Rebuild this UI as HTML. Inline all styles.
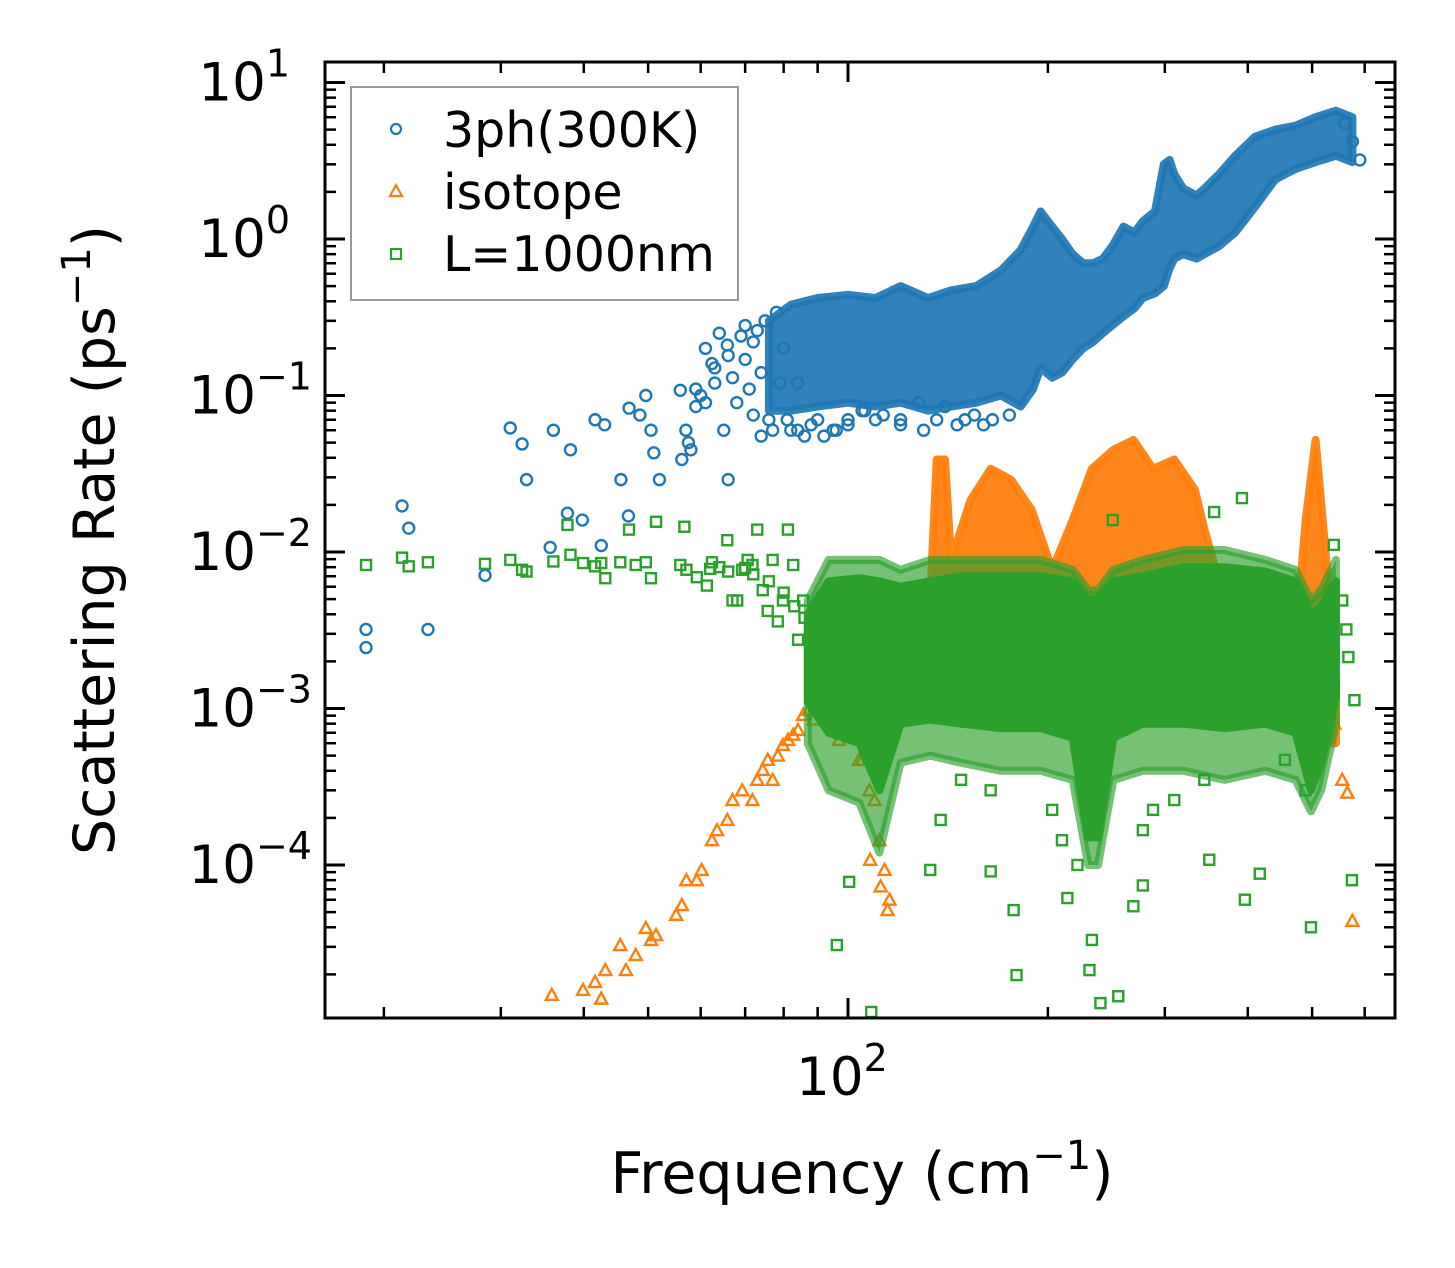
<!DOCTYPE html>
<html><head><meta charset="utf-8">
<style>
html,body{margin:0;padding:0;background:#fff;}
svg{display:block;font-family:"DejaVu Sans","Liberation Sans",sans-serif;}
</style></head>
<body>
<svg id="chart" width="1455" height="1268" viewBox="0 0 1455 1268" xmlns="http://www.w3.org/2000/svg">
<rect width="1455" height="1268" fill="#fff"/>
<g id="plot"></g>
<g id="axes"></g>
<text x="862" y="1193" font-size="57" text-anchor="middle">Frequency (cm<tspan dy="-24" font-size="40">−1</tspan><tspan dy="24">)</tspan></text>
<text transform="translate(114,540) rotate(-90)" font-size="57" text-anchor="middle">Scattering Rate (ps<tspan dy="-24" font-size="40">−1</tspan><tspan dy="24">)</tspan></text>
<g>
<rect x="351" y="87" width="387" height="213" fill="#fff" stroke="#999" stroke-width="2"/>
<circle cx="396" cy="129" r="5" fill="none" stroke="#1f77b4" stroke-width="2.2"/>
<text x="443" y="147" font-size="49">3ph(300K)</text>
<path d="M396,185 L402,196 L390,196 Z" fill="none" stroke="#ff7f0e" stroke-width="2.2"/>
<text x="443" y="209" font-size="49">isotope</text>
<rect x="391" y="249" width="10" height="10" fill="none" stroke="#2ca02c" stroke-width="2.2"/>
<text x="443" y="271" font-size="49">L=1000nm</text>
</g>
</svg>
<script>
// ---- data ----
const blueBandFreq = [76,82,90,100,110,120,132,143,156,170,182,190,195,203,210,218,226,234,242,250,260,270,278,290,299,305,310,320,335,344,362,383,410,440,472,506,543,575];
const blueBandHigh = [0.3,0.38,0.42,0.44,0.42,0.5,0.42,0.47,0.5,0.63,0.85,1.2,1.5,1.2,1.0,0.8,0.7,0.7,0.75,0.9,1.2,1.1,1.3,1.5,3.0,3.2,2.6,2.1,1.9,2.1,2.6,3.4,4.5,5.0,5.3,6.0,6.6,6.0];
const blueBandLow = [0.08,0.08,0.085,0.09,0.085,0.09,0.08,0.085,0.09,0.1,0.085,0.11,0.15,0.13,0.14,0.17,0.2,0.22,0.25,0.28,0.32,0.36,0.42,0.45,0.5,0.65,0.75,0.8,0.75,0.8,0.9,1.1,1.6,2.4,2.8,3.1,3.4,3.1];
const blueFreq = [18.8,18.8,21.3,21.8,23.3,28.4,31,32.3,32.8,36,35.6,37.8,38.2,39.8,41.6,43,42.5,45.5,46.8,46.7,48.6,49.6,50.5,51,52,55.9,56.2,57,57.5,59,60,61,62.4,63,65,65.8,66,67,69,70,71,72,73,74,75,76,78,80,82,84,86,90,95,100,105,110,120,130,140,150,160,175,590,575,560,58,59,61,63,64,66,68,70,72,74,77,79,81,84,88,92,96,100,106,113,120,128,136,146,155,165];
const blueRate = [3.2e-3,2.45e-3,0.0197,0.0142,3.2e-3,7.1e-3,0.062,0.049,0.029,0.06,0.0107,0.0177,0.045,0.016,0.07,0.065,0.011,0.029,0.083,0.017,0.075,0.1,0.06,0.043,0.029,0.108,0.039,0.06,0.05,0.085,0.1,0.2,0.16,0.12,0.06,0.21,0.029,0.13,0.24,0.17,0.11,0.075,0.26,0.055,0.3,0.07,0.34,0.2,0.06,0.12,0.055,0.07,0.06,0.065,0.08,0.07,0.065,0.06,0.085,0.07,0.065,0.075,3.2,4.2,5.5,0.045,0.11,0.09,0.15,0.25,0.18,0.09,0.28,0.22,0.14,0.06,0.12,0.07,0.06,0.065,0.055,0.06,0.07,0.08,0.075,0.07,0.09,0.07,0.065,0.075,0.07];

const orangeBandFreq = [95,120,133,136,140,143,153,164,176,189,203,218,233,251,269,288,310,333,344,369,425,472,489,506,525,543];
const orangeBandHigh = [1.2e-3,2.7e-3,4.9e-3,0.039,0.039,8.9e-3,0.0215,0.034,0.029,0.0186,7.7e-3,0.016,0.034,0.045,0.052,0.034,0.039,0.025,0.014,4.9e-3,2.7e-3,2.7e-3,0.016,0.052,8.9e-3,1.5e-3];
const orangeBandLow = [8e-4,8e-4,9e-4,9e-4,9e-4,9e-4,9e-4,9e-4,9e-4,9e-4,9e-4,9e-4,9e-4,1e-3,1e-3,1.2e-3,1.5e-3,1.5e-3,1.5e-3,1.5e-3,1.5e-3,1.3e-3,1e-3,8e-4,6e-4,6e-4];
const orangeFreq = [35.8,39.9,41.6,42.5,43.1,45.4,46.3,47.9,49.6,50.5,51.4,55.1,56.2,57.1,59.2,60.2,62.4,63.5,65.8,67,69.3,71.8,73,74.4,75.7,77,78.4,79.8,81.2,82.7,84.1,85.6,87.2,88.7,90.3,93.5,96.9,100.4,103.9,107.7,111.5,113.5,114.7,115.5,109.6,112,108,105,555,565,575,540,530,520,500,488,450,430];
const orangeRate = [1.48e-5,1.59e-5,1.79e-5,1.4e-5,2.13e-5,3.08e-5,2.13e-5,2.66e-5,3.96e-5,3.32e-5,3.57e-5,4.8e-5,5.55e-5,8e-5,8e-5,9.3e-5,1.44e-4,1.67e-4,1.94e-4,2.6e-4,3e-4,2.6e-4,3.5e-4,4.05e-4,4.7e-4,3.5e-4,5e-4,5.85e-4,6.3e-4,6.8e-4,7.3e-4,9.1e-4,9.8e-4,8.5e-4,1.13e-3,1.13e-3,6.3e-4,8.5e-4,4.7e-4,3e-4,1.44e-4,9.3e-5,5.15e-5,6e-5,2.6e-4,7.3e-5,1.08e-4,4.7e-4,3.5e-4,2.9e-4,4.4e-5,8e-4,2e-3,2.5e-3,2e-3,1.7e-3,2e-3,1.8e-3];

const greenBandFreq = [87,93.5,104,111.5,120,133,148,170,195,218,230,238,251,278,320,369,425,472,498,516,543];
const greenOuterHigh = [4.9e-3,8.9e-3,8.9e-3,8.9e-3,7.7e-3,8.9e-3,8.9e-3,8.9e-3,8.9e-3,7.7e-3,5.7e-3,5.7e-3,7.7e-3,8.9e-3,0.0103,0.0103,8.9e-3,7.7e-3,4.9e-3,5.7e-3,8.9e-3];
const greenOuterLow = [6e-4,3e-4,2.5e-4,1.2e-4,4.5e-4,5e-4,4.5e-4,4e-4,4e-4,3.5e-4,1.0e-4,1.0e-4,3.5e-4,4e-4,4e-4,3.5e-4,4e-4,3.5e-4,2.2e-4,3e-4,8e-4];
const greenCoreHigh = [4e-3,6.5e-3,6.8e-3,6.5e-3,6e-3,6.5e-3,7e-3,7e-3,7e-3,6.5e-3,5e-3,5e-3,6.5e-3,7e-3,8e-3,8e-3,7.5e-3,6.5e-3,4e-3,4.5e-3,6.5e-3];
const greenCoreLow = [1.1e-3,7e-4,6e-4,3e-4,8e-4,8.5e-4,8e-4,7.5e-4,7.5e-4,6.5e-4,1.5e-4,1.5e-4,6.5e-4,8e-4,8e-4,7.5e-4,8e-4,7e-4,3e-4,4.5e-4,1.2e-3];
const greenFreq = [18.8,21.3,21.8,23.3,28.4,31,32.3,32.8,36,37.8,38.2,39.9,41.6,42.5,43.1,45.4,46.8,47.9,49.6,50.5,51.4,55.9,56.7,57.1,59.2,61.3,62.4,65.8,67,68.1,69.3,70.6,71.8,73,74.4,75.7,77,78.4,79.8,81.2,82.7,84.1,85.6,96.2,100.4,108.4,133,137.9,164,177.6,179.4,214,221.6,231,233,240,255.3,269,278,350,396,417,498,574,579,567,563,555,539,356,392,250.5,148,164,203,288,310,344,455,489,210,278,62,64,66,70,72,76,80,83,86,88,90];
const greenRate = [8.26e-3,9.2e-3,8.1e-3,8.6e-3,8.4e-3,8.9e-3,7.7e-3,7.5e-3,8.7e-3,0.0149,9.6e-3,8.5e-3,8.1e-3,8.5e-3,6.8e-3,8.6e-3,0.0139,8.26e-3,8.6e-3,6.8e-3,0.0156,8.26e-3,0.0145,7.7e-3,6.9e-3,6.1e-3,8.6e-3,0.0119,4.9e-3,4.9e-3,7.7e-3,8.9e-3,8.26e-3,0.0139,5.7e-3,4.2e-3,8.9e-3,3.6e-3,4.9e-3,0.0139,8.26e-3,2.75e-3,4.9e-3,3.08e-5,7.8e-5,1.15e-5,9.3e-5,1.94e-4,9.1e-5,5.15e-5,1.98e-5,6.15e-5,1e-4,2.13e-5,3.32e-5,1.31e-5,1.45e-5,5.45e-5,7.4e-5,1.08e-4,6e-5,8.8e-5,4e-5,8e-5,1.13e-3,2.13e-3,3.2e-3,4.9e-3,0.0111,0.018,0.0221,0.016,3.5e-4,3e-4,2.25e-4,2.25e-4,2.6e-4,3.5e-4,4.7e-4,3e-4,1.44e-4,1.67e-4,7.8e-3,8e-3,7.5e-3,7.9e-3,7.2e-3,6.5e-3,5.5e-3,4.5e-3,3.8e-3,3.2e-3,3e-3];

const yTickExps = [1,0,-1,-2,-3,-4];
const xTickExps = [2];

// ---- scales ----
const L=325,R=1395,T=62,B=1018;
const XC=848, XD=664, YC=239, YD=156.5;
function xs(f){return XC + XD*(Math.log10(f)-2);}
function ys(v){return YC - YD*Math.log10(v);}
const NS="http://www.w3.org/2000/svg";
const plot=document.getElementById('plot');
const axes=document.getElementById('axes');
function mk(tag,attrs,parent){const e=document.createElementNS(NS,tag);for(const k in attrs)e.setAttribute(k,attrs[k]);(parent||plot).appendChild(e);return e;}

const defs=mk('defs',{},document.getElementById('chart'));
const cp=mk('clipPath',{id:'clip'},defs);
mk('rect',{x:L,y:T,width:R-L,height:B-T},cp);
plot.setAttribute('clip-path','url(#clip)');

function band(fr,hi,lo,color,op,name){
  let pts=[];
  for(let i=0;i<fr.length;i++)pts.push(xs(fr[i]).toFixed(1)+','+ys(hi[i]).toFixed(1));
  for(let i=fr.length-1;i>=0;i--)pts.push(xs(fr[i]).toFixed(1)+','+ys(lo[i]).toFixed(1));
  const p=mk('polygon',{points:pts.join(' '),fill:color,'fill-opacity':op,stroke:color,'stroke-width':8,'stroke-linejoin':'round','stroke-opacity':op});
  
  
}
function circles(fr,v,name){
  for(let i=0;i<fr.length;i++){
    const c=mk('circle',{cx:xs(fr[i]),cy:ys(v[i]),r:5.5,fill:'none',stroke:'#1f77b4','stroke-width':2.4});
    
    
  }
}
function tris(fr,v,name){
  for(let i=0;i<fr.length;i++){
    const x=xs(fr[i]),y=ys(v[i]);
    const t=mk('path',{d:`M${x},${y-6} L${x+6},${y+5} L${x-6},${y+5} Z`,fill:'none',stroke:'#ff7f0e','stroke-width':2.4});
    
    
  }
}
function squares(fr,v,name){
  for(let i=0;i<fr.length;i++){
    const s=mk('rect',{x:xs(fr[i])-5,y:ys(v[i])-5,width:10,height:10,fill:'none',stroke:'#2ca02c','stroke-width':2.4});
    
    
  }
}
band(blueBandFreq,blueBandHigh,blueBandLow,'#1f77b4',0.92,'3ph-dense-region');
circles(blueFreq,blueRate,'3ph-point');
band(orangeBandFreq,orangeBandHigh,orangeBandLow,'#ff7f0e',0.95,'isotope-dense-region');
tris(orangeFreq,orangeRate,'isotope-point');
band(greenBandFreq,greenOuterHigh,greenOuterLow,'#2ca02c',0.65,'boundary-spread-region');
band(greenBandFreq,greenCoreHigh,greenCoreLow,'#2ca02c',1,'boundary-dense-region');
squares(greenFreq,greenRate,'boundary-point');

// ---- axes ----
const sp=mk('rect',{x:L,y:T,width:R-L,height:B-T,fill:'none',stroke:'#000','stroke-width':3},axes);


function tickLine(x1,y1,x2,y2,w){mk('line',{x1,y1,x2,y2,stroke:'#000','stroke-width':w},axes);}
for(let e=-5;e<=1;e++){
  for(let m=1;m<=9;m++){
    const v=m*Math.pow(10,e); const y=ys(v);
    if(y<T||y>B)continue;
    const len=m===1?20:11, w=m===1?3:2.5;
    tickLine(L,y,L+len,y,w); tickLine(R,y,R-len,y,w);
  }
}
for(let e=1;e<=2;e++){
  for(let m=1;m<=9;m++){
    const f=m*Math.pow(10,e); const x=xs(f);
    if(x<L||x>R)continue;
    const len=m===1?20:11, w=m===1?3:2.5;
    tickLine(x,B,x,B-len,w); tickLine(x,T,x,T+len,w);
  }
}
yTickExps.forEach(e=>{
  const t=mk('text',{x:e<0?312:290,y:ys(Math.pow(10,e))+18,'font-size':53,'text-anchor':'end'},axes);
  
  
  t.textContent='10';
  const s=mk('tspan',{dy:-24,'font-size':38},t);
  s.textContent=(e<0?'−':'')+Math.abs(e);
});
xTickExps.forEach(e=>{
  const t=mk('text',{x:xs(Math.pow(10,e))-6,y:1095,'font-size':53,'text-anchor':'middle'},axes);
  
  
  t.textContent='10';
  const s=mk('tspan',{dy:-24,'font-size':38},t);
  s.textContent=String(e);
});
</script>
</body></html>
